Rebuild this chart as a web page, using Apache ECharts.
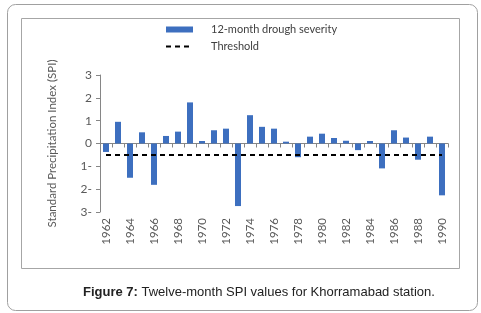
<!DOCTYPE html>
<html>
<head>
<meta charset="utf-8">
<script src="https://cdn.jsdelivr.net/npm/echarts@6/dist/echarts.min.js"></script>
<style>
  html, body { margin: 0; padding: 0; background: #fff; }
  #chart { width: 481px; height: 313px; }
</style>
</head>
<body>
<div id="chart"></div>
<script>
// years on the category axis
const years = ['1962', '1963', '1964', '1965', '1966', '1967', '1968', '1969', '1970', '1971',
  '1972', '1973', '1974', '1975', '1976', '1977', '1978', '1979', '1980', '1981',
  '1982', '1983', '1984', '1985', '1986', '1987', '1988', '1989', '1990']

// 12-month SPI
const spi = [-0.37, 0.95, -1.5, 0.49, -1.81, 0.33, 0.52, 1.8, 0.11, 0.58,
  0.65, -2.74, 1.24, 0.73, 0.65, 0.08, -0.6, 0.3, 0.43, 0.24,
  0.12, -0.29, 0.11, -1.09, 0.58, 0.26, -0.71, 0.3, -2.27]

const threshold = -0.5
const yTicks = [-3, -2, -1, 0, 1, 2, 3]

const gray = '#868686'
const blue = '#3d6fbf'
const textColor = '#595959'

const chart = echarts.init(document.getElementById('chart'))

const option = {
  animation: false,
  textStyle: { fontFamily: 'Lato' },
  graphic: [
    // outer rounded frame
    { type: 'rect', silent: true, shape: { x: 7.5, y: 4.5, width: 470, height: 306, r: 8 },
      style: { fill: 'none', stroke: '#a0a0a0', lineWidth: 1 } },
    // chart area frame
    { type: 'rect', silent: true, shape: { x: 21.5, y: 18.5, width: 438, height: 250 },
      style: { fill: 'none', stroke: '#a6a6a6', lineWidth: 1 } }
  ],
  title: {
    text: '{b|Figure 7:} Twelve-month SPI values for Khorramabad station.',
    left: 78,
    top: 281,
    textStyle: {
      fontFamily: 'Liberation Sans',
      fontSize: 13,
      fontWeight: 'normal',
      color: '#222',
      rich: {
        b: { fontFamily: 'Liberation Sans', fontSize: 13, fontWeight: 'bold', color: '#222' }
      }
    }
  },
  legend: {
    orient: 'vertical',
    left: 165,
    top: 24,
    padding: 0,
    itemWidth: 27,
    itemHeight: 6,
    itemGap: 6,
    textStyle: { fontFamily: 'Lato', fontSize: 11, color: '#404040', padding: [0, 0, 0, 13] },
    data: [
      { name: '12-month drough severity', icon: 'rect' },
      { name: 'Threshold', itemStyle: { opacity: 0 } }
    ]
  },
  grid: { left: 100, right: 33, top: 75, bottom: 101 },
  xAxis: [
    {
      type: 'category',
      data: years,
      axisLine: { onZero: true, lineStyle: { color: gray } },
      axisTick: { show: true, interval: 0, length: 4, lineStyle: { color: gray } },
      axisLabel: { show: false }
    },
    {
      type: 'category',
      data: years,
      position: 'bottom',
      axisLine: { show: false, onZero: false },
      axisTick: { show: false },
      axisLabel: { interval: 1, rotate: 90, fontSize: 11.5, color: textColor, margin: 6, fontFamily: 'Lato' }
    }
  ],
  yAxis: {
    type: 'value',
    min: yTicks[0],
    max: yTicks[yTicks.length - 1],
    interval: 1,
    name: 'Standard Precipitation Index (SPI)',
    nameLocation: 'middle',
    nameRotate: 90,
    nameGap: 42,
    nameTextStyle: { fontSize: 11.5, color: textColor, fontFamily: 'Lato' },
    axisLine: { show: true, lineStyle: { color: gray } },
    axisTick: { show: true, length: 4, lineStyle: { color: gray } },
    splitLine: { show: false },
    axisLabel: {
      fontSize: 12,
      color: textColor,
      margin: 8,
      fontFamily: 'Lato',
      formatter: (v) => (v < 0 ? Math.abs(v) + '-' : String(v))
    }
  },
  series: [
    {
      name: '12-month drough severity',
      type: 'bar',
      xAxisIndex: 0,
      barWidth: 6,
      itemStyle: { color: blue },
      data: spi
    },
    {
      name: 'Threshold',
      type: 'line',
      xAxisIndex: 0,
      symbol: 'none',
      lineStyle: { color: '#000', width: 2, type: [5, 4] },
      itemStyle: { color: '#000' },
      data: [],
      markLine: {
        silent: true,
        symbol: 'none',
        label: { show: false },
        lineStyle: { color: '#000', width: 2, type: [5, 4] },
        data: [[
          { coord: [years[0], threshold] },
          { coord: [years[years.length - 1], threshold] }
        ]]
      }
    }
  ]
}

chart.setOption(option)
</script>
</body>
</html>
